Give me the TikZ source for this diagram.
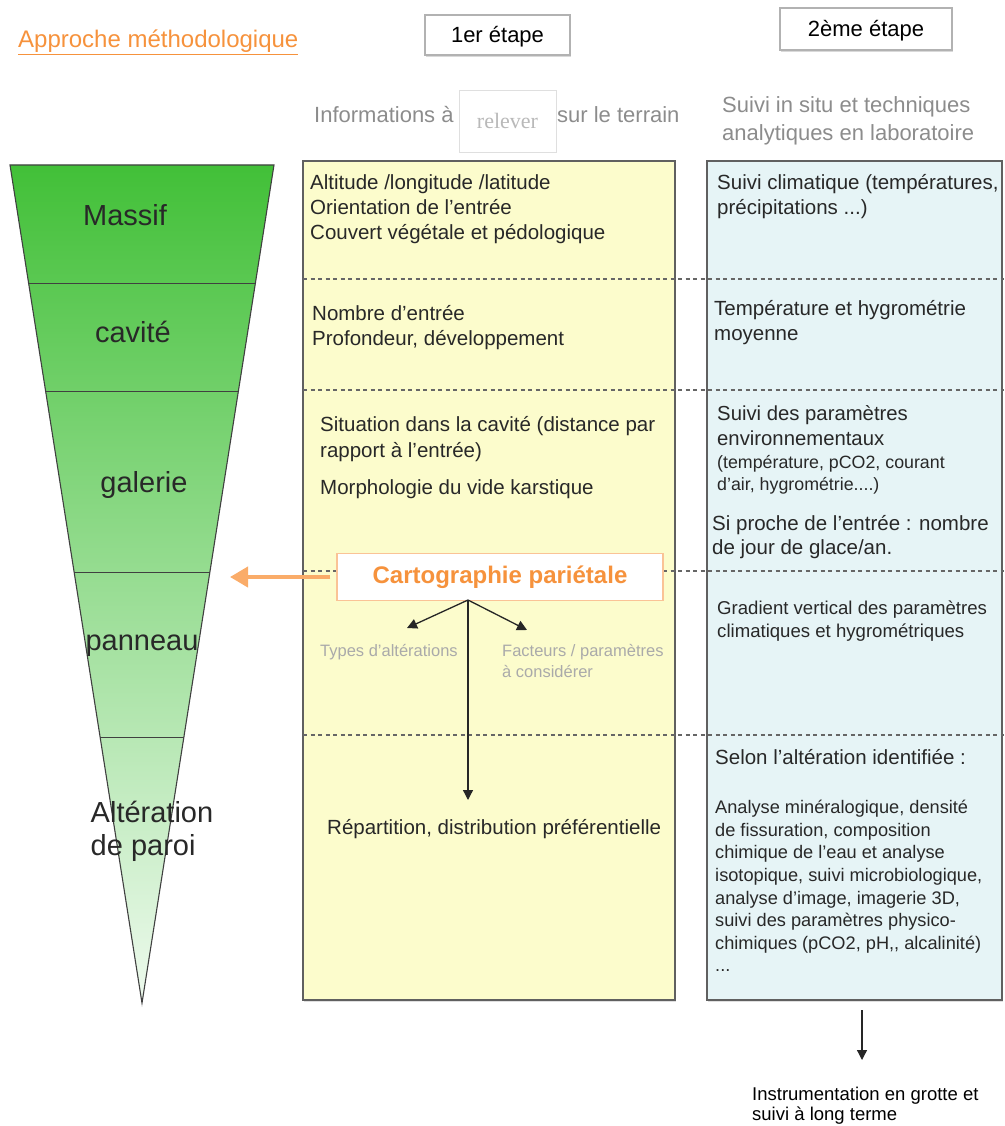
\documentclass[tikz,border=0pt]{standalone}
\usepackage{fontspec}
\setmainfont{Liberation Sans}
\newfontfamily\relfont{Liberation Serif}
\usetikzlibrary{calc,arrows.meta,shadows}

\definecolor{orangetxt}{RGB}{246,146,60}
\definecolor{orangearr}{RGB}{250,172,105}
\definecolor{orangebrd}{RGB}{250,195,150}
\definecolor{yellowbg}{RGB}{252,252,204}
\definecolor{bluebg}{RGB}{230,244,246}
\definecolor{greentop}{RGB}{66,192,56}
\definecolor{greenbot}{RGB}{238,250,238}
\definecolor{headgray}{RGB}{140,140,140}
\definecolor{softgray}{RGB}{170,170,170}
\definecolor{bodytxt}{RGB}{40,40,40}

\newcommand\setfs[2]{\fontsize{#1}{#2}\selectfont}

\begin{document}
\begin{tikzpicture}[x=1pt,y=-1pt,
		txt/.style={anchor=north west,inner sep=0pt,align=left,text=bodytxt,font=\setfs{20.5}{25}},
		lvl/.style={inner sep=0pt,text=bodytxt,font=\setfs{29}{33}},
		stepbox/.style={draw=gray!60,line width=1.5pt,fill=white,inner sep=0pt,text=black,font=\setfs{22}{26},
			drop shadow={shadow xshift=1pt,shadow yshift=-2pt,opacity=0.3}},
		colbox/.style={draw=gray!75!black,line width=1.4pt,inner sep=0pt,
			drop shadow={shadow xshift=1pt,shadow yshift=-2pt,opacity=0.25}},
		funnelline/.style={draw=black!75,line width=1.1pt},
		sep/.style={draw=black!60,line width=1.1pt,dash pattern=on 4pt off 3.5pt},
		blackarrow/.style={draw=black!85,line width=1.3pt,-{Triangle[length=10pt,width=10pt]}},
		orangearrow/.style={draw=orangearr,line width=4pt,-{Triangle[length=18pt,width=20pt]}}]
	\useasboundingbox (0,0) rectangle (1004,1126);

	\node[anchor=base west,inner sep=0pt,text=orangetxt,font=\setfs{24}{28}] (titre) at (18,48) {\underline{Approche méthodologique}};
	\node[stepbox,minimum width=145pt,minimum height=40pt,text depth=2pt] (etape1) at (497.5,35) {1er étape};
	\node[stepbox,minimum width=172pt,minimum height=42pt,text depth=2pt] (etape2) at (866,29) {2ème étape};

	\node[anchor=base west,inner sep=0pt,text=headgray,font=\setfs{22}{28}] (infoh) at (314,123) {Informations à};
	\node[draw=gray!25,fill=white,minimum width=97pt,minimum height=62pt,inner sep=0pt,text=gray!55,font=\relfont\setfs{22}{26}] (relever) at (507.5,121) {relever};
	\node[anchor=base west,inner sep=0pt,text=headgray,font=\setfs{22}{28}] (terrainh) at (557,123) {sur le terrain};
	\node[txt,text=headgray,font=\setfs{22}{28}] (suivih) at (722,96) {Suivi in situ et techniques\\analytiques en laboratoire};

	\coordinate (ftl) at (10,165);
	\coordinate (ftr) at (274,165);
	\coordinate (fap) at (142,1003);
	\shade[top color=greentop,bottom color=greenbot] (ftl) -- (ftr) -- (fap) -- cycle;
	\draw[funnelline] (ftl) -- (ftr) -- (fap) -- cycle;
	\foreach \t in {0.141,0.270,0.486,0.683}
		\draw[funnelline] ($(ftl)!\t!(fap)$) -- ($(ftr)!\t!(fap)$);
	\node[lvl] (massif) at (125,215) {Massif};
	\node[lvl] (cavite) at (133,332) {cavité};
	\node[lvl] (galerie) at (144,485) {galerie};
	\node[lvl] (panneau) at (142,646) {panneau};
	\node[lvl,align=left] (alteration) at (152,831) {Altération\\de paroi};

	\node[colbox,fill=yellowbg,minimum width=372pt,minimum height=839pt] (terrain) at (489,580.5) {};
	\node[colbox,fill=bluebg,minimum width=295pt,minimum height=839pt] (labo) at (854.5,580.5) {};
	\foreach \y in {279,390,571,735}
		\draw[sep] (303,\y) -- (1004,\y);

	\node[txt] (altitude) at (310,174) {Altitude /longitude /latitude\\Orientation de l'entrée\\Couvert végétale et pédologique};
	\node[txt] (nombre) at (312,305) {Nombre d'entrée\\Profondeur, développement};
	\node[txt,font=\setfs{20.5}{26}] (situation) at (320,416) {Situation dans la cavité (distance par\\rapport à l'entrée)};
	\node[txt] (morpho) at (320,479) {Morphologie du vide karstique};
	\node[txt,text=softgray,font=\setfs{16.5}{21}] (types) at (320,644) {Types d'altérations};
	\node[txt,text=softgray,font=\setfs{16.5}{21}] (facteurs) at (502,644) {Facteurs / paramètres\\à considérer};
	\node[txt] (repart) at (327,819) {Répartition, distribution préférentielle};

	\node[txt] (climat) at (717,174) {Suivi climatique (températures,\\précipitations ...)};
	\node[txt] (temphyg) at (714,300) {Température et hygrométrie\\moyenne};
	\node[txt,font=\setfs{20.3}{25}] (suivipar) at (717,405) {Suivi des paramètres\\environnementaux};
	\node[txt,font=\setfs{17.8}{22}] (pcodeux) at (717,455) {(température, pCO2, courant\\d'air, hygrométrie....)};
	\node[txt,font=\setfs{20.5}{24}] (proche) at (712,515) {Si proche de l'entrée : nombre\\de jour de glace/an.};
	\node[txt,font=\setfs{18.6}{23}] (gradient) at (717,601) {Gradient vertical des paramètres\\climatiques et hygrométriques};
	\node[txt] (selon) at (715,749) {Selon l'altération identifiée :};
	\node[txt,font=\setfs{18.2}{22.6}] (analyse) at (715,800) {Analyse minéralogique, densité\\de fissuration, composition\\chimique de l'eau et analyse\\isotopique, suivi microbiologique,\\analyse d'image, imagerie 3D,\\suivi des paramètres physico-\\chimiques (pCO2, pH{,}{,} alcalinité)\\...};
	\node[txt,text=black,font=\setfs{18.5}{19.5}] (instru) at (752,1087) {Instrumentation en grotte et\\suivi à long terme};

	\node[draw=orangebrd,line width=1.5pt,fill=white,minimum width=326pt,minimum height=47pt,inner sep=0pt,
		text=orangetxt,font=\bfseries\setfs{24}{28}] (cart) at (500,577) {Cartographie pariétale};

	\coordinate (fpoint) at (230,577);
	\coordinate (split) at (468,600);
	\coordinate (typtip) at (407,628);
	\coordinate (factip) at (527,630);
	\coordinate (reptip) at (468,800);
	\coordinate (labobas) at (862,1010);
	\coordinate (instip) at (862,1060);
	\draw[orangearrow,shorten <=6pt] (cart.west) -- (fpoint);
	\draw[blackarrow] (split) -- (typtip);
	\draw[blackarrow] (split) -- (factip);
	\draw[blackarrow] (split) -- (reptip);
	\draw[blackarrow] (labobas) -- (instip);
\end{tikzpicture}
\end{document}
